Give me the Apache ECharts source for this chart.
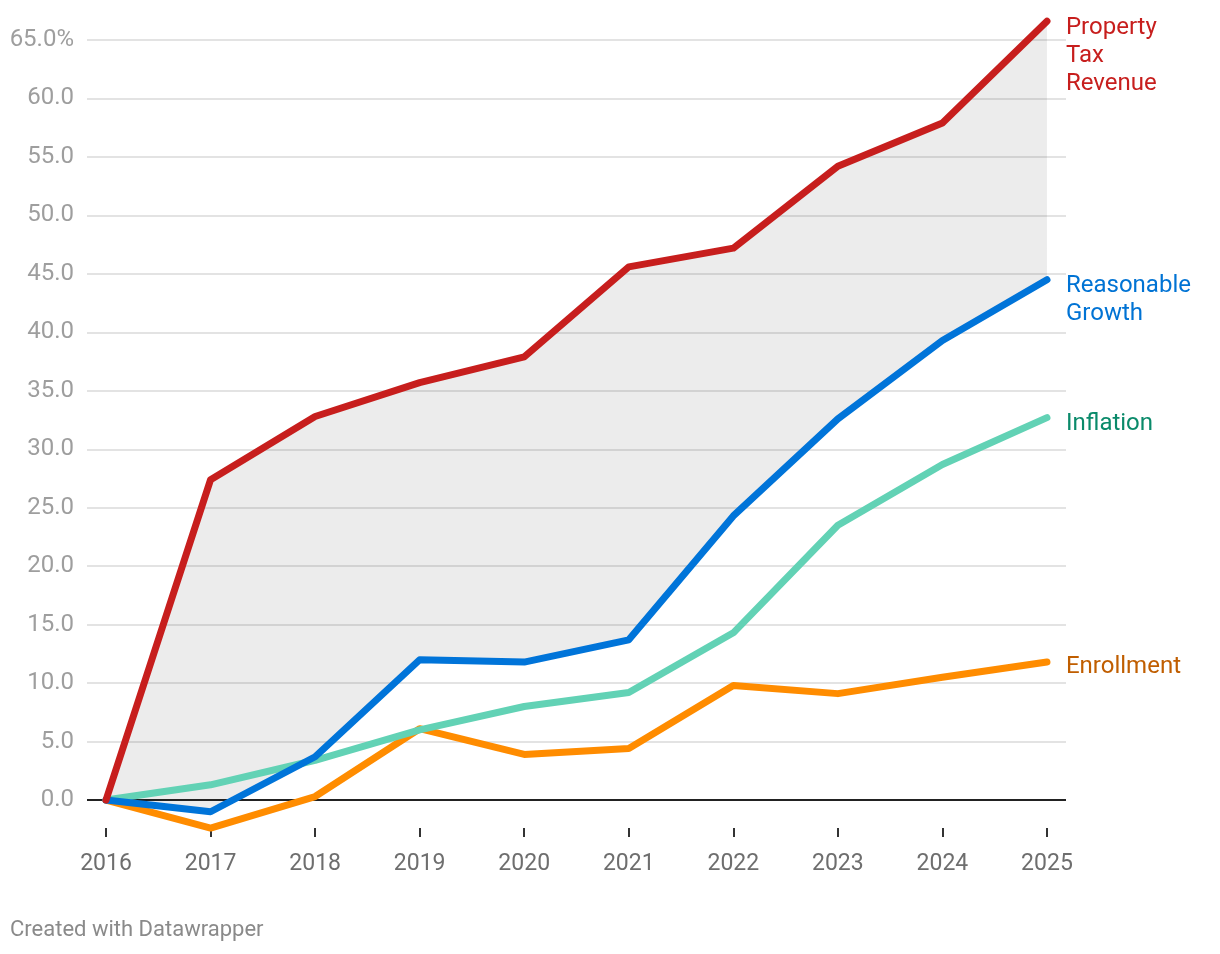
<!DOCTYPE html>
<html>
<head>
<meta charset="utf-8">
<script src="https://cdn.jsdelivr.net/npm/echarts@6/dist/echarts.min.js"></script>
<style>
html,body{margin:0;padding:0;background:#fff;}
#chart{width:1220px;height:954px;}
</style>
</head>
<body>
<div id="chart"></div>
<script>
const years = [2016, 2017, 2018, 2019, 2020, 2021, 2022, 2023, 2024, 2025];
const propertyTax = [0, 27.4, 32.8, 35.7, 37.9, 45.6, 47.2, 54.2, 57.9, 66.6];
const reasonableGrowth = [0, -1.0, 3.7, 12.0, 11.8, 13.7, 24.3, 32.6, 39.3, 44.5];
const inflation = [0, 1.3, 3.4, 6.0, 8.0, 9.2, 14.3, 23.5, 28.7, 32.7];
const enrollment = [0, -2.4, 0.3, 6.1, 3.9, 4.4, 9.8, 9.1, 10.5, 11.8];
const yTicks = [-5, 0, 5, 10, 15, 20, 25, 30, 35, 40, 45, 50, 55, 60, 65];

const FONT = 'Roboto';
const pairs = arr => years.map((y, i) => [y, arr[i]]);
const bandData = years.map((y, i) => [y, propertyTax[i], reasonableGrowth[i]]);

function lineSeries(name, data, color, textColor, labelText, offY) {
  return {
    name: name, type: 'line', data: pairs(data), symbol: 'none', clip: false, z: 5,
    lineStyle: { color: color, width: 7, cap: 'round', join: 'round' },
    endLabel: {
      show: true, formatter: labelText, color: textColor, fontFamily: FONT,
      fontSize: 24, lineHeight: 28, distance: 19, offset: [0, offY], align: 'left'
    }
  };
}

const chart = echarts.init(document.getElementById('chart'), null, { renderer: 'canvas' });
chart.setOption({
  animation: false,
  backgroundColor: '#ffffff',
  grid: { left: 87, right: 154, top: 40, bottom: 95.5, containLabel: false },
  xAxis: {
    type: 'value', min: 2015.818, max: 2025.182, offset: -30.5,
    axisLine: { show: false, onZero: false },
    splitLine: { show: false },
    axisTick: { show: true, customValues: years, length: 9, lineStyle: { color: '#333', width: 2 } },
    axisLabel: { customValues: years, formatter: v => String(v), color: '#6e6e6e', fontFamily: FONT, fontSize: 23, margin: 25 }
  },
  yAxis: {
    type: 'value', min: -5, max: 65, interval: 5,
    axisLine: { show: false }, axisTick: { show: false },
    splitLine: { show: true, lineStyle: { color: yTicks.map(v => v === -5 ? 'rgba(0,0,0,0)' : '#e3e3e3'), width: 2 } },
    axisLabel: {
      color: '#9e9e9e', fontFamily: FONT, fontSize: 24, margin: 13,
      formatter: v => v === -5 ? '' : (v === 65 ? v.toFixed(1) + '%' : v.toFixed(1))
    }
  },
  series: [
    {
      name: 'band', type: 'custom', data: bandData, z: 1, silent: true, clip: false,
      encode: { x: 0, y: [1, 2] },
      renderItem: function (params, api) {
        if (params.dataIndex !== 0) return null;
        const top = bandData.map(d => api.coord([d[0], d[1]]));
        const bottom = bandData.map(d => api.coord([d[0], d[2]])).reverse();
        return { type: 'polygon', shape: { points: top.concat(bottom) }, style: { fill: 'rgba(0,0,0,0.075)' } };
      },
      markLine: { silent: true, symbol: 'none', label: { show: false }, lineStyle: { color: '#222', width: 2, type: 'solid' }, data: [{ yAxis: 0 }] }
    },
    lineSeries('Enrollment', enrollment, '#ff8c00', '#c05e00', 'Enrollment', 5),
    lineSeries('Inflation', inflation, '#62d2b5', '#0a8a6a', 'Inflation', 6),
    lineSeries('Reasonable Growth', reasonableGrowth, '#0074d9', '#0073d4', 'Reasonable\nGrowth', 20),
    lineSeries('Property Tax Revenue', propertyTax, '#c71e1d', '#c71e1d', 'Property\nTax\nRevenue', 35)
  ],
  graphic: [
    { type: 'text', left: 10, top: 919, style: { text: 'Created with Datawrapper', fill: '#8a8a8a', font: '22px Roboto' } }
  ]
});
</script>
</body>
</html>
